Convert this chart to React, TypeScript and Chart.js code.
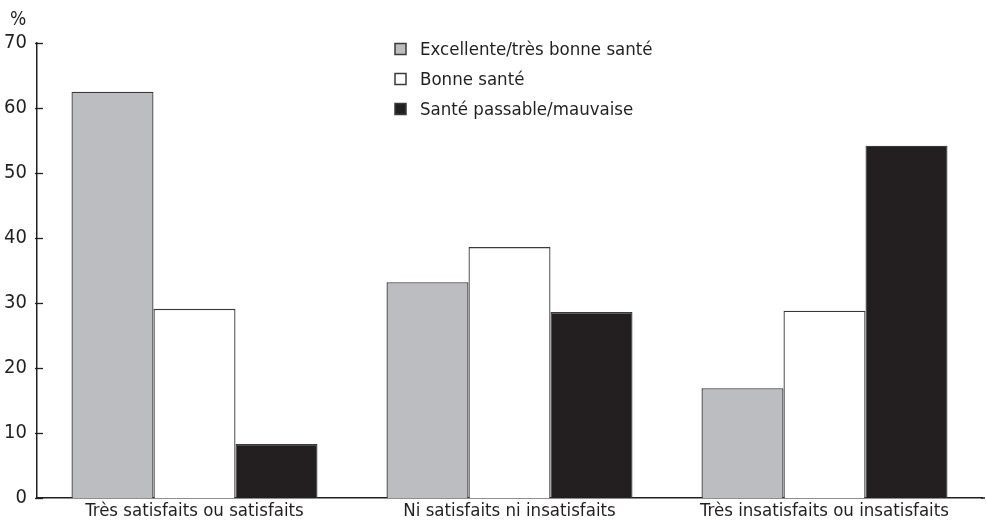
import React, { useEffect, useRef } from "react";
import { Chart, registerables } from "chart.js";

Chart.register(...registerables);

const categories = [
  "Très satisfaits ou satisfaits",
  "Ni satisfaits ni insatisfaits",
  "Très insatisfaits ou insatisfaits",
];
const seriesLabels = [
  "Excellente/très bonne santé",
  "Bonne santé",
  "Santé passable/mauvaise",
];
const excellente = [62.5, 33.2, 16.9];
const bonne = [29.1, 38.6, 28.8];
const passable = [8.3, 28.6, 54.2];
const yMin = 0;
const yMax = 70;
const yStep = 10;
const yUnit = "%";

const FONT = '"Liberation Sans Narrow", "DejaVu Sans Condensed", Roboto, sans-serif';
const INK = "#231f20";
const GRAY = "#bcbdc0";

const extrasPlugin = {
  id: "extras",
  afterDraw(chart: any) {
    const ctx = chart.ctx;
    const y = chart.scales.y;
    const x = chart.scales.x;
    ctx.save();
    // y tick marks crossing the axis
    ctx.strokeStyle = INK;
    ctx.lineWidth = 1.3;
    y.ticks.forEach((t: any) => {
      const py = Math.round(y.getPixelForValue(t.value)) + 0.5;
      ctx.beginPath();
      ctx.moveTo(y.right - 2, py);
      ctx.lineTo(y.right + 6, py);
      ctx.stroke();
    });
    // extend baseline slightly to the right
    const by = y.getPixelForValue(yMin);
    ctx.lineWidth = 1.5;
    ctx.beginPath();
    ctx.moveTo(x.right - 1, by);
    ctx.lineTo(x.right + 3, by);
    ctx.stroke();
    // unit label
    ctx.fillStyle = INK;
    ctx.font = `19px ${FONT}`;
    ctx.textAlign = "center";
    ctx.textBaseline = "middle";
    ctx.fillText(yUnit, 18, 20);
    // legend
    const boxX = 395;
    const size = 11;
    const startY = 49;
    const gap = 30;
    ctx.font = `18.5px ${FONT}`;
    ctx.textAlign = "left";
    chart.data.datasets.forEach((ds: any, i: number) => {
      const cy = startY + i * gap;
      ctx.fillStyle = ds.backgroundColor;
      ctx.fillRect(boxX, cy - size / 2, size, size);
      ctx.strokeStyle = "#3a3a3a";
      ctx.lineWidth = 1.5;
      ctx.strokeRect(boxX, cy - size / 2, size, size);
      ctx.fillStyle = INK;
      ctx.fillText(ds.label, 420, cy + 1);
    });
    ctx.restore();
  },
};

export default function App() {
  const ref = useRef<HTMLCanvasElement | null>(null);
  useEffect(() => {
    if (!ref.current) return;
    const colors = [GRAY, "#ffffff", INK];
    const values = [excellente, bonne, passable];
    const chart = new Chart(ref.current, {
      type: "bar",
      data: {
        labels: categories,
        datasets: values.map((v, i) => ({
          label: seriesLabels[i],
          data: v,
          backgroundColor: colors[i],
          borderColor: "#3a3a3a",
          borderWidth: 1.3,
          barPercentage: 1,
          categoryPercentage: 0.781,
        })),
      },
      options: {
        animation: false,
        responsive: true,
        maintainAspectRatio: false,
        layout: { padding: { top: 43, right: 5, left: 0, bottom: 0 } },
        plugins: {
          legend: { display: false },
          tooltip: { enabled: false },
        },
        scales: {
          x: {
            grid: { display: false, drawTicks: false },
            border: { display: true, color: INK, width: 1.5 },
            ticks: {
              color: INK,
              font: { family: FONT, size: 18.5 },
              padding: 2,
              maxRotation: 0,
              autoSkip: false,
            },
            afterFit: (s: any) => {
              s.height = 24;
            },
          },
          y: {
            min: yMin,
            max: yMax,
            grid: { display: false, drawTicks: false },
            border: { display: true, color: INK, width: 1.5 },
            ticks: {
              stepSize: yStep,
              color: INK,
              font: { family: FONT, size: 20 },
              padding: 10,
            },
            afterFit: (s: any) => {
              s.width = 37;
            },
          },
        },
      },
      plugins: [extrasPlugin],
    });
    return () => chart.destroy();
  }, []);
  return (
    <div style={{ position: "fixed", left: 0, top: 0, width: 987, height: 522, background: "#fff" }}>
      <canvas ref={ref} />
    </div>
  );
}
